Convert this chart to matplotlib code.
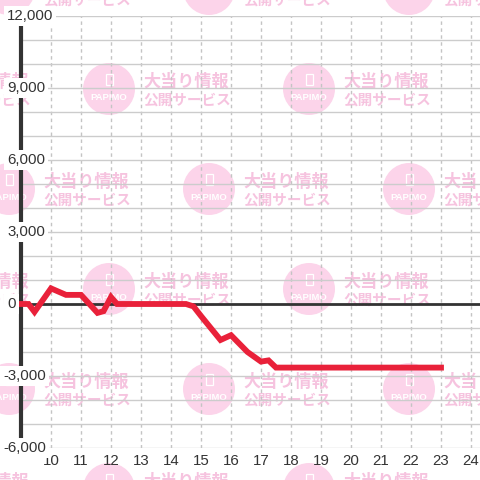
import matplotlib
matplotlib.use("Agg")
import matplotlib.pyplot as plt
from matplotlib.patches import Circle, Rectangle

# ====================================
# data
# ====================================
hours = [9.0, 9.25, 9.45, 10.0, 10.5, 11.0, 11.55, 11.75, 12.0, 12.2,
         14.5, 14.75, 15.0, 15.65, 16.0, 16.55, 17.0, 17.25, 17.5, 23.0]
balance = [0, 0, -330, 650, 380, 380, -370, -300, 290, 0,
           0, -100, -500, -1500, -1300, -2000, -2400, -2350, -2650, -2650]

xticks = list(range(10, 25))
ylabel_vals = [-6000, -3000, 0, 3000, 6000, 9000, 12000]
ygrid_vals = list(range(-6000, 12001, 1000))

W = H = 480
fsz = 10.8
plt.rcParams['font.family'] = ['Liberation Sans', 'DejaVu Sans']

fig = plt.figure(figsize=(4.8, 4.8), dpi=100)
fig.patch.set_facecolor('white')

# ====================================
# watermark (background)
# ====================================
bg = fig.add_axes([0, 0, 1, 1], zorder=0)
bg.set_xlim(0, W)
bg.set_ylim(H, 0)
bg.axis('off')
pink_c = '#fcd4ea'
pink_t = '#f6c3df'
for j, cy in enumerate(range(-11, 500, 100)):
    off = 9 if j % 2 == 0 else 109
    for cx in range(off - 200, 500, 200):
        bg.add_patch(Circle((cx, cy), 26, color=pink_c, lw=0))
        bg.add_patch(Rectangle((cx - 3.5, cy - 15), 7, 11, fill=False,
                               ec='white', lw=0.9))
        bg.text(cx, cy + 9, 'PAPIMO', color='white', fontsize=6.8,
                ha='center', va='center', fontweight='bold')
        bg.text(cx + 34, cy - 7, '大当り情報', color=pink_t, fontsize=12.3,
                ha='left', va='center', fontweight='bold',
                family=['Noto Sans CJK JP', 'DejaVu Sans'])
        bg.text(cx + 34, cy + 11, '公開サービス', color=pink_t, fontsize=10.5,
                ha='left', va='center', fontweight='bold',
                family=['Noto Sans CJK JP', 'DejaVu Sans'])

# ====================================
# main chart
# ====================================
left, right, top, bottom = 21, 480, 16, 448
ax = fig.add_axes([left / W, (H - bottom) / H, (right - left) / W, (bottom - top) / H],
                  zorder=1)
ax.set_facecolor('none')
ax.set_xlim(9, 9 + (right - left) / 30.0)
ax.set_ylim(-6000, 12000)

ax.set_yticks(ygrid_vals)
ax.set_xticks(xticks)
ax.tick_params(axis='y', length=0, labelleft=False)
ax.tick_params(axis='x', length=0, pad=4, labelsize=fsz, labelcolor='#333333')
ax.grid(axis='y', color='#cccccc', lw=1)
ax.grid(axis='x', color='#c4c4c4', lw=1, linestyle=(0, (2.5, 2.5)))
for s in ['top', 'right', 'bottom']:
    ax.spines[s].set_visible(False)
ax.spines['left'].set_linewidth(3)
ax.spines['left'].set_color('#333333')

ax.axhline(0, color='#333333', lw=2, zorder=3)

ax.plot(hours, balance, color='#e9213a', lw=4.2, zorder=4,
        solid_joinstyle='miter', clip_on=False)

# y labels with white box over the axis line
for v in ylabel_vals:
    px = 3 if v < 0 else 7
    ax.text((px - left) / (right - left), v, f'{v:,}',
            transform=ax.get_yaxis_transform(),
            ha='left', va='center', fontsize=fsz, color='#333333', zorder=5,
            clip_on=False,
            bbox=dict(boxstyle='square,pad=0.2', fc='white', ec='none'))

plt.savefig('out.png', dpi=100)
